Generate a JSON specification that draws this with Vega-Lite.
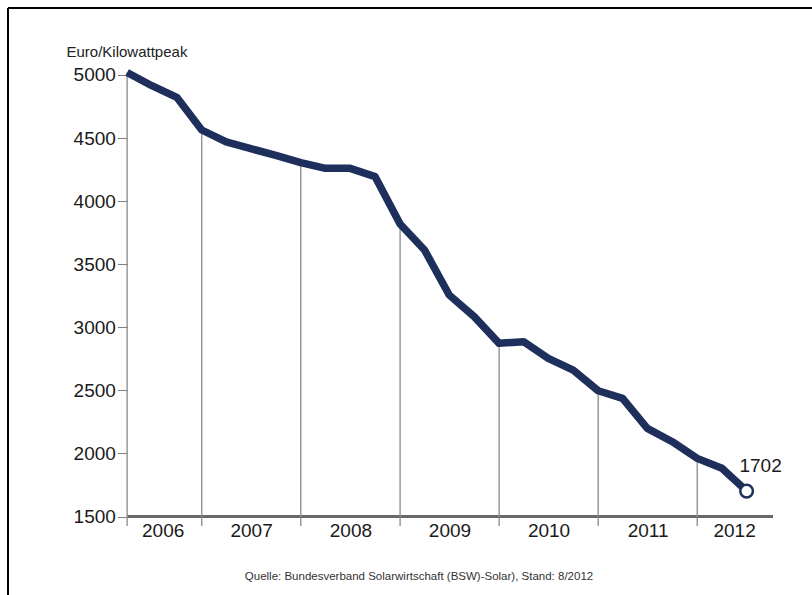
{
  "$schema": "https://vega.github.io/schema/vega-lite/v6.json",
  "width": 804,
  "height": 587,
  "autosize": {"type": "none"},
  "padding": {"left": 8, "top": 8, "right": 0, "bottom": 0},
  "background": "white",
  "config": {
    "font": "Liberation Sans",
    "view": {"stroke": "#000000", "strokeWidth": 2, "strokeDash": [804, 1391, 587, 0]}
  },
  "title": {
    "text": "Quelle: Bundesverband Solarwirtschaft (BSW)-Solar), Stand: 8/2012",
    "orient": "bottom",
    "anchor": "middle",
    "frame": "group",
    "fontSize": 11.5,
    "fontWeight": "normal",
    "font": "Liberation Sans",
    "color": "#333333",
    "offset": -24,
    "dx": 9
  },
  "data": {
    "values": [
      {"date": "2006-04-01", "price": 5020},
      {"date": "2006-07-01", "price": 4915},
      {"date": "2006-10-01", "price": 4823},
      {"date": "2007-01-01", "price": 4564},
      {"date": "2007-04-01", "price": 4469},
      {"date": "2007-07-01", "price": 4416},
      {"date": "2007-10-01", "price": 4363},
      {"date": "2008-01-01", "price": 4305},
      {"date": "2008-04-01", "price": 4260},
      {"date": "2008-07-01", "price": 4260},
      {"date": "2008-10-01", "price": 4194},
      {"date": "2009-01-01", "price": 3819},
      {"date": "2009-04-01", "price": 3613},
      {"date": "2009-07-01", "price": 3256},
      {"date": "2009-10-01", "price": 3085},
      {"date": "2010-01-01", "price": 2873},
      {"date": "2010-04-01", "price": 2886},
      {"date": "2010-07-01", "price": 2754},
      {"date": "2010-10-01", "price": 2661},
      {"date": "2011-01-01", "price": 2497},
      {"date": "2011-04-01", "price": 2437},
      {"date": "2011-07-01", "price": 2199},
      {"date": "2011-10-01", "price": 2093},
      {"date": "2012-01-01", "price": 1961},
      {"date": "2012-04-01", "price": 1882},
      {"date": "2012-07-01", "price": 1702}
    ]
  },
  "encoding": {
    "x": {
      "field": "date",
      "type": "temporal",
      "title": null,
      "scale": {
        "type": "utc",
        "domain": [
          {"year": 2005, "month": 1, "date": 17, "utc": true},
          {"year": 2013, "month": 2, "date": 27, "utc": true}
        ],
        "nice": false
      },
      "axis": {
        "orient": "bottom",
        "offset": -78.5,
        "domain": false,
        "ticks": false,
        "grid": false,
        "values": [
          {"year": 2006, "month": 8, "date": 10, "utc": true},
          {"year": 2007, "month": 7, "date": 2, "utc": true},
          {"year": 2008, "month": 7, "date": 2, "utc": true},
          {"year": 2009, "month": 7, "date": 2, "utc": true},
          {"year": 2010, "month": 7, "date": 2, "utc": true},
          {"year": 2011, "month": 7, "date": 2, "utc": true},
          {"year": 2012, "month": 5, "date": 16, "utc": true}
        ],
        "labelExpr": "utcFormat(datum.value, '%Y')",
        "labelFont": "Liberation Sans",
        "labelFontSize": 19,
        "labelColor": "#1a1a1a",
        "labelPadding": 5,
        "labelOverlap": false,
        "labelFlush": false,
        "title": null
      }
    },
    "y": {
      "field": "price",
      "type": "quantitative",
      "title": null,
      "scale": {"domain": [878, 5531], "nice": false, "zero": false},
      "axis": {
        "orient": "left",
        "offset": -119.4,
        "domain": false,
        "grid": false,
        "values": [1500, 2000, 2500, 3000, 3500, 4000, 4500, 5000],
        "format": "d",
        "tickSize": 10,
        "tickWidth": 1,
        "tickColor": "#808080",
        "labelFont": "Liberation Sans",
        "labelFontSize": 19,
        "labelColor": "#1a1a1a",
        "labelPadding": 2,
        "labelOverlap": false,
        "title": "Euro/Kilowattpeak",
        "titleFont": "Liberation Sans",
        "titleFontSize": 15,
        "titleFontWeight": "normal",
        "titleColor": "#222222",
        "titleAngle": 0,
        "titleAlign": "left",
        "titleBaseline": "alphabetic",
        "titleX": -61.4,
        "titleY": 48
      }
    }
  },
  "layer": [
    {
      "mark": {"type": "rule", "color": "#6a6a6a", "strokeWidth": 1.5},
      "encoding": {
        "x": {"datum": {"year": 2006, "month": 4, "date": 1, "utc": true}, "type": "temporal"},
        "x2": {"datum": {"year": 2012, "month": 10, "date": 6, "utc": true}},
        "y": {"datum": 1500, "type": "quantitative"}
      }
    },
    {
      "transform": [
        {"window": [{"op": "row_number", "as": "rn"}], "sort": [{"field": "date", "order": "ascending"}]},
        {"filter": "datum.rn == 1 || utcmonth(toDate(datum.date)) == 0"}
      ],
      "mark": {"type": "rule", "color": "#8a8a8a", "strokeWidth": 1.3},
      "encoding": {
        "y2": {"datum": 1425}
      }
    },
    {
      "mark": {"type": "line", "color": "#1e2f5c", "strokeWidth": 7.5, "strokeJoin": "round", "strokeCap": "butt"}
    },
    {
      "transform": [
        {"window": [{"op": "row_number", "as": "rn"}], "sort": [{"field": "date", "order": "descending"}]},
        {"filter": "datum.rn == 1"}
      ],
      "mark": {"type": "point", "shape": "circle", "size": 160, "filled": true, "fill": "white", "stroke": "#1e2f5c", "strokeWidth": 2.5, "opacity": 1}
    },
    {
      "transform": [
        {"window": [{"op": "row_number", "as": "rn"}], "sort": [{"field": "date", "order": "descending"}]},
        {"filter": "datum.rn == 1"}
      ],
      "mark": {"type": "text", "align": "center", "baseline": "alphabetic", "dx": 14, "dy": -19, "fontSize": 19, "font": "Liberation Sans", "color": "#1a1a1a"},
      "encoding": {
        "text": {"field": "price", "type": "quantitative", "format": "d"}
      }
    }
  ]
}
